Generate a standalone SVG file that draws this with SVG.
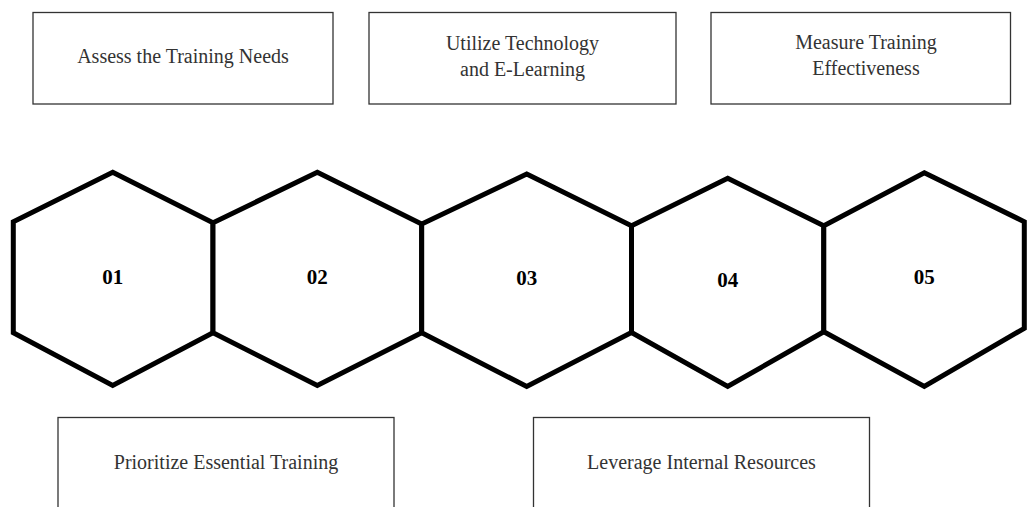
<svg xmlns="http://www.w3.org/2000/svg" width="1035" height="507" viewBox="0 0 1035 507">
  <style>
    .box { fill: #ffffff; stroke: #333333; stroke-width: 1.3; }
    .label { font-family: "Liberation Serif", "DejaVu Serif", serif; font-size: 20px; fill: #333333; text-anchor: middle; }
    .hex { fill: #ffffff; stroke: #000000; stroke-width: 5; stroke-linejoin: miter; }
    .num { font-family: "Liberation Serif", "DejaVu Serif", serif; font-size: 21px; font-weight: bold; fill: #000000; text-anchor: middle; }
  </style>
  <rect width="1035" height="507" fill="#ffffff"/>

  <!-- hexagon chain -->
  <g id="hex-01">
    <polygon class="hex" points="112.7,172.3 213,222.7 213,332.7 112.7,385.5 13.3,332.7 13.3,221.7"/>
    <text class="num" x="112.7" y="284">01</text>
  </g>
  <g id="hex-02">
    <polygon class="hex" points="317.3,172.3 421.7,224 421.7,332.7 317.3,385.5 213,332.7 213,222.7"/>
    <text class="num" x="317.3" y="284">02</text>
  </g>
  <g id="hex-03">
    <polygon class="hex" points="526.7,174 631.5,225.7 631.5,332.5 526.7,386.5 421.7,332.7 421.7,224"/>
    <text class="num" x="526.7" y="285">03</text>
  </g>
  <g id="hex-04">
    <polygon class="hex" points="727.7,178.3 823.8,225.7 823.8,331.7 727.7,386.5 631.5,332.5 631.5,225.7"/>
    <text class="num" x="727.7" y="287">04</text>
  </g>
  <g id="hex-05">
    <polygon class="hex" points="924.3,172.7 1024.3,221.7 1024.3,328.3 924.3,386.5 823.8,331.7 823.8,225.7"/>
    <text class="num" x="924.3" y="284">05</text>
  </g>

  <!-- step cards above the chain -->
  <g id="card-assess">
    <rect class="box" x="33" y="12.5" width="300" height="91.5"/>
    <text class="label" x="183" y="63">Assess the Training Needs</text>
  </g>
  <g id="card-technology">
    <rect class="box" x="369" y="12.5" width="307" height="91.5"/>
    <text class="label" x="522.5" y="50">Utilize Technology</text>
    <text class="label" x="522.5" y="76">and E-Learning</text>
  </g>
  <g id="card-measure">
    <rect class="box" x="711" y="12.5" width="299.5" height="91.5"/>
    <text class="label" x="866" y="49">Measure Training</text>
    <text class="label" x="866" y="75">Effectiveness</text>
  </g>

  <!-- step cards below the chain -->
  <g id="card-prioritize">
    <rect class="box" x="58" y="417.5" width="336" height="100"/>
    <text class="label" x="226" y="469">Prioritize Essential Training</text>
  </g>
  <g id="card-leverage">
    <rect class="box" x="533.5" y="417.5" width="336" height="100"/>
    <text class="label" x="701.5" y="469">Leverage Internal Resources</text>
  </g>

  <!-- no connectors: the hexagons share edges -->
  <g id="connectors"/>
</svg>
